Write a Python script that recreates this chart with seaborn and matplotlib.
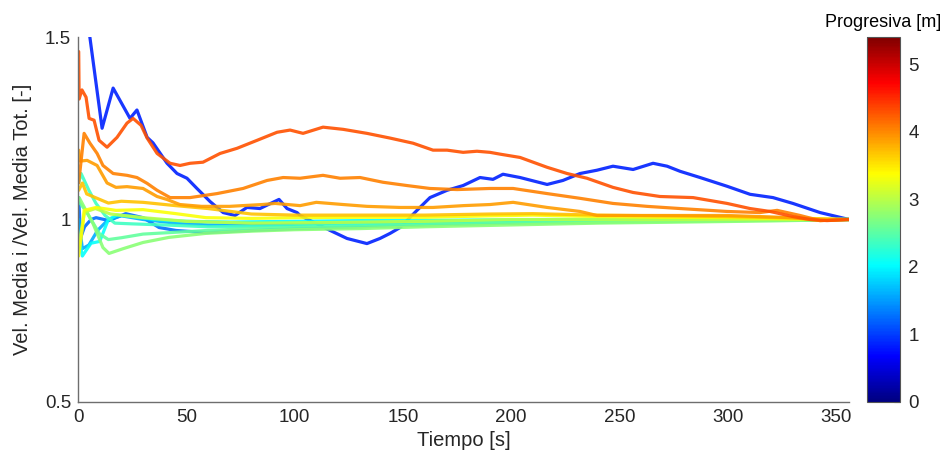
import numpy as np
import pandas as pd
import matplotlib
matplotlib.use("Agg")
import matplotlib.pyplot as plt
from matplotlib.colors import LinearSegmentedColormap, Normalize
import seaborn as sns

# Running mean of each gauge's velocity divided by the overall mean, per progresiva
prog_vals = [0.85, 1.25, 1.6, 2.05, 2.35, 2.55, 2.75, 3.0, 3.35, 3.7, 3.9, 4.05, 4.3]

t_085 = [3.5, 5.0, 11.1, 16.2, 24.0, 27.2, 31.9, 34.6, 41.1, 45.7, 50.3, 54.9, 61.0, 67.0,
         72.5, 78.0, 84.0, 92.8, 96.5, 101.1, 102.5, 116.4, 124.2, 133.4, 139.4, 144.1,
         148.7, 156.5, 162.5, 170.4, 177.8, 185.6, 191.6, 196.2, 204.1, 216.6, 223.9,
         231.8, 239.6, 247.0, 256.3, 265.5, 272.0, 278.0, 287.2, 299.7, 310.3, 320.9,
         330.1, 342.6, 356.0]
y_085 = [1.90, 1.52, 1.25, 1.36, 1.277, 1.30, 1.225, 1.21, 1.154, 1.126, 1.113, 1.085, 1.049,
         1.019, 1.011, 1.033, 1.030, 1.055, 1.030, 1.019, 1.011, 0.970, 0.948, 0.934, 0.948,
         0.962, 0.978, 1.025, 1.060, 1.080, 1.093, 1.115, 1.110, 1.124, 1.115, 1.096, 1.107,
         1.126, 1.135, 1.146, 1.137, 1.154, 1.146, 1.132, 1.115, 1.091, 1.069, 1.060, 1.044,
         1.019, 1.000]

t_125 = [0.3, 1.2, 3.0, 6.0, 8.3, 14.3, 22.0, 30.0, 37.4, 45.2, 59.1, 80.0, 100.0, 130.0,
         160.0, 200.0, 250.0, 300.0, 356.0]
y_125 = [1.06, 0.95, 0.98, 1.00, 1.005, 0.997, 1.016, 1.005, 0.978, 0.970, 0.964, 0.970,
         0.975, 0.980, 0.985, 0.990, 0.995, 0.998, 1.000]

t_160 = [0.3, 2.0, 5.0, 9.0, 14.0, 20.0, 30.0, 45.0, 60.0, 90.0, 120.0, 160.0, 200.0,
         260.0, 356.0]
y_160 = [1.00, 0.92, 0.93, 0.97, 1.00, 1.01, 1.00, 0.99, 0.985, 0.985, 0.99, 0.992, 0.995,
         0.998, 1.000]

t_205 = [0.3, 2.0, 3.7, 6.0, 10.0, 14.0, 18.0, 25.0, 35.0, 50.0, 70.0, 100.0, 130.0, 170.0,
         220.0, 280.0, 356.0]
y_205 = [0.95, 0.90, 0.915, 0.935, 0.94, 1.00, 1.012, 1.008, 1.00, 0.995, 0.993, 0.995,
         0.997, 0.998, 1.000, 1.000, 1.000]

t_235 = [0.3, 1.4, 5.0, 8.3, 12.5, 17.0, 25.0, 40.0, 60.0, 90.0, 120.0, 160.0, 200.0,
         250.0, 300.0, 356.0]
y_235 = [1.10, 1.126, 1.08, 1.044, 1.011, 0.99, 0.988, 0.985, 0.98, 0.982, 0.985, 0.99,
         0.995, 0.997, 0.998, 1.000]

t_255 = [0.3, 4.0, 10.0, 14.0, 20.0, 30.0, 45.0, 60.0, 80.0, 100.0, 130.0, 160.0, 200.0,
         240.0, 280.0, 320.0, 356.0]
y_255 = [1.05, 1.02, 0.96, 0.945, 0.95, 0.96, 0.965, 0.97, 0.975, 0.978, 0.98, 0.985,
         0.99, 0.992, 0.995, 0.998, 1.000]

t_275 = [0.5, 6.9, 11.5, 14.3, 20.8, 30.0, 42.0, 59.1, 80.0, 100.0, 130.0, 160.0, 200.0,
         240.0, 280.0, 320.0, 356.0]
y_275 = [1.06, 0.989, 0.923, 0.907, 0.920, 0.937, 0.951, 0.962, 0.968, 0.972, 0.975,
         0.980, 0.985, 0.990, 0.993, 0.996, 1.000]

t_300 = [0.3, 3.0, 8.0, 15.0, 30.0, 50.0, 80.0, 120.0, 160.0, 200.0, 240.0, 280.0, 320.0,
         356.0]
y_300 = [0.93, 1.02, 1.03, 1.015, 1.005, 0.995, 0.99, 0.992, 0.995, 1.000, 1.000, 1.000,
         1.000, 1.000]

t_335 = [0.3, 2.3, 2.8, 8.3, 17.5, 30.0, 45.2, 59.1, 80.0, 100.0, 130.0, 160.0, 190.0,
         210.0, 240.0, 270.0, 300.0, 330.0, 356.0]
y_335 = [0.90, 0.99, 1.025, 1.033, 1.025, 1.027, 1.016, 1.005, 1.003, 1.005, 1.006, 1.006,
         1.010, 1.012, 1.008, 1.006, 1.005, 1.002, 1.000]

t_370 = [0.3, 2.0, 4.0, 8.0, 14.0, 20.0, 30.0, 45.0, 60.0, 80.0, 100.0, 130.0, 160.0,
         190.0, 210.0, 240.0, 270.0, 300.0, 330.0, 356.0]
y_370 = [1.08, 1.10, 1.07, 1.06, 1.045, 1.05, 1.047, 1.038, 1.03, 1.015, 1.012, 1.012,
         1.012, 1.015, 1.016, 1.012, 1.010, 1.008, 1.004, 1.000]

t_390 = [0.3, 1.0, 4.2, 8.8, 13.4, 17.5, 22.6, 30.0, 36.5, 41.0, 47.0, 57.0, 70.0, 85.0,
         91.0, 102.5, 110.0, 122.4, 133.4, 148.7, 163.9, 178.0, 190.2, 200.9, 216.6,
         231.8, 239.6, 252.0, 278.0, 299.7, 314.9, 330.1, 342.6, 356.0]
y_390 = [1.19, 1.16, 1.162, 1.148, 1.10, 1.088, 1.090, 1.085, 1.063, 1.055, 1.041, 1.036,
         1.036, 1.041, 1.044, 1.038, 1.047, 1.041, 1.036, 1.033, 1.033, 1.038, 1.041,
         1.047, 1.033, 1.022, 1.011, 1.011, 1.011, 1.011, 1.008, 1.005, 0.997, 1.000]

t_405 = [0.3, 2.8, 5.5, 8.8, 11.5, 16.2, 22.6, 27.2, 31.9, 36.5, 42.5, 47.1, 51.7, 64.2,
         76.2, 87.3, 94.7, 102.5, 113.1, 121.0, 130.2, 140.8, 151.9, 162.5, 175.0, 190.2,
         200.9, 216.6, 231.8, 247.0, 262.7, 278.0, 299.7, 314.9, 322.8, 333.4, 342.6, 356.0]
y_405 = [1.10, 1.236, 1.209, 1.181, 1.148, 1.126, 1.121, 1.115, 1.099, 1.080, 1.060,
         1.060, 1.060, 1.071, 1.085, 1.107, 1.115, 1.113, 1.121, 1.113, 1.115, 1.102,
         1.093, 1.085, 1.082, 1.085, 1.085, 1.071, 1.058, 1.044, 1.036, 1.030, 1.022,
         1.019, 1.025, 1.011, 0.997, 1.000]

t_430 = [0.3, 0.5, 1.0, 1.8, 3.7, 5.1, 7.4, 9.7, 13.4, 18.0, 22.6, 25.4, 29.1, 31.9, 36.5,
         42.5, 47.1, 51.7, 57.7, 65.6, 73.4, 82.7, 91.9, 97.9, 103.9, 113.1, 122.4, 133.4,
         144.1, 154.7, 163.9, 170.4, 177.8, 184.2, 190.2, 194.9, 204.1, 216.6, 225.8,
         235.0, 247.0, 256.3, 268.7, 284.0, 299.7, 310.3, 319.5, 330.1, 338.0, 345.8, 356.0]
y_430 = [1.46, 1.33, 1.34, 1.355, 1.335, 1.277, 1.272, 1.217, 1.198, 1.225, 1.264, 1.277,
         1.258, 1.223, 1.181, 1.154, 1.148, 1.154, 1.157, 1.181, 1.195, 1.217, 1.239,
         1.245, 1.236, 1.253, 1.247, 1.236, 1.223, 1.209, 1.190, 1.190, 1.184, 1.187,
         1.184, 1.179, 1.170, 1.143, 1.126, 1.113, 1.088, 1.074, 1.063, 1.060, 1.044,
         1.030, 1.022, 1.008, 1.000, 0.997, 1.000]

series_t = [t_085, t_125, t_160, t_205, t_235, t_255, t_275, t_300, t_335, t_370, t_390,
            t_405, t_430]
series_y = [y_085, y_125, y_160, y_205, y_235, y_255, y_275, y_300, y_335, y_370, y_390,
            y_405, y_430]

x_ticks = [0, 50, 100, 150, 200, 250, 300, 350]
y_ticks = [0.5, 1.0, 1.5]
y_tick_labels = ["0.5", "1", "1.5"]
cbar_ticks = [0, 1, 2, 3, 4, 5]
cbar_max = 5.4

frames = []
for p, ts, ys in zip(prog_vals, series_t, series_y):
    frames.append(pd.DataFrame({"Tiempo": ts, "Ratio": ys, "Progresiva": p}))
df = pd.concat(frames, ignore_index=True)

# Classic "jet" ramp: dark blue -> blue -> cyan -> yellow -> red -> dark red
jet_classic = LinearSegmentedColormap.from_list(
    "jet_classic",
    [(0.0, (0, 0, 0.5)), (0.125, (0, 0, 1)), (0.375, (0, 1, 1)),
     (0.625, (1, 1, 0)), (0.875, (1, 0, 0)), (1.0, (0.5, 0, 0))], N=256)

sns.set_style("white")
plt.rcParams["font.family"] = ["Liberation Sans", "DejaVu Sans"]

fig = plt.figure(figsize=(9.46, 4.69), dpi=100)
ax = fig.add_axes([0.0825, 0.1429, 0.815, 0.7782])
cax = fig.add_axes([0.9165, 0.1429, 0.0349, 0.7782])

text_col = "#262626"
sns.lineplot(data=df, x="Tiempo", y="Ratio", hue="Progresiva", palette=jet_classic,
             hue_norm=(0, cbar_max), units="Progresiva", estimator=None, sort=False,
             lw=2.3, alpha=0.9, legend=False, ax=ax)

ax.set_xlim(0, 356)
ax.set_ylim(0.5, 1.5)
ax.set_xticks(x_ticks)
ax.set_yticks(y_ticks)
ax.set_yticklabels(y_tick_labels)
ax.set_xlabel("Tiempo [s]", fontsize=14.5, color=text_col, labelpad=4)
ax.set_ylabel("Vel. Media i /Vel. Media Tot. [-]", fontsize=14.5, color=text_col, labelpad=9)
ax.tick_params(axis="both", direction="in", length=5, width=0.8, colors="#555555",
               labelcolor=text_col, labelsize=13.5, pad=5)
for side in ["top", "right"]:
    ax.spines[side].set_visible(False)
for side in ["left", "bottom"]:
    ax.spines[side].set_color("#6e6e6e")
    ax.spines[side].set_linewidth(1.0)

sm = matplotlib.cm.ScalarMappable(norm=Normalize(0, cbar_max), cmap=jet_classic)
cb = fig.colorbar(sm, cax=cax, ticks=cbar_ticks)
cb.outline.set_edgecolor("#555555")
cb.outline.set_linewidth(0.8)
cax.tick_params(direction="in", length=4, width=0.8, colors="#555555", labelcolor=text_col,
                labelsize=13.5, pad=6)
cax.set_title("Progresiva [m]", fontsize=13, color="black", pad=7)

fig.savefig("out.png", dpi=100, facecolor="white")
